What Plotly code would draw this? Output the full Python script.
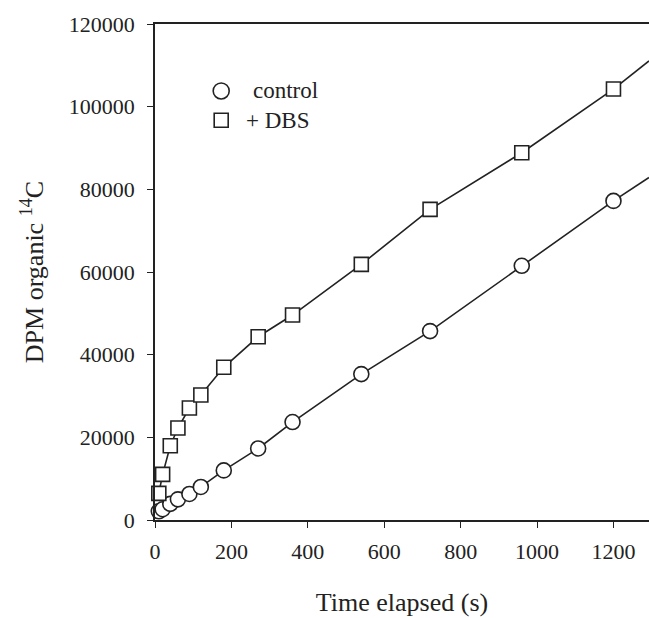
import numpy as np
import plotly.graph_objects as go

# Data
time_s = [10, 20, 40, 60, 90, 120, 180, 270, 360, 540, 720, 960, 1200]
control_dpm = [2100, 2600, 3900, 5000, 6300, 8000, 12000, 17300, 23700, 35300, 45700, 61500, 77200]
dbs_dpm = [6450, 11050, 17970, 22250, 27090, 30240, 36940, 44340, 49590, 61850, 75150, 88850, 104260]
x_ticks = [0, 200, 400, 600, 800, 1000, 1200]
y_ticks = [0, 20000, 40000, 60000, 80000, 100000, 120000]
x_max = 1293
y_max = 120000

FONT = "Liberation Serif"
INK = "#222222"

t = np.array(time_s, dtype=float)


def extension(y):
    y = np.array(y, dtype=float)
    mask = t >= 180
    slope, icpt = np.polyfit(t[mask], y[mask], 1)
    return [t[-1], x_max], [y[-1], slope * x_max + icpt]


fig = go.Figure()

for ys, sym in [(control_dpm, "circle"), (dbs_dpm, "square")]:
    ex, ey = extension(ys)
    fig.add_trace(go.Scatter(x=ex, y=ey, mode="lines",
                             line=dict(color=INK, width=1.6),
                             showlegend=False, hoverinfo="skip"))
    fig.add_trace(go.Scatter(
        x=time_s, y=ys, mode="lines+markers",
        line=dict(color=INK, width=1.6),
        marker=dict(symbol=sym, size=15 if sym == "circle" else 14,
                    color="white", line=dict(color=INK, width=1.6)),
        cliponaxis=False, showlegend=False))

# manual legend
fig.add_shape(type="circle", xref="paper", yref="paper", xsizemode="pixel", ysizemode="pixel",
              xanchor=0.134, yanchor=0.865, x0=-8, x1=8, y0=-8, y1=8,
              line=dict(color=INK, width=1.6), fillcolor="white")
fig.add_shape(type="rect", xref="paper", yref="paper", xsizemode="pixel", ysizemode="pixel",
              xanchor=0.134, yanchor=0.806, x0=-7, x1=7, y0=-7, y1=7,
              line=dict(color=INK, width=1.6), fillcolor="white")
fig.add_annotation(x=0.194, y=0.865, xref="paper", yref="paper", text="control",
                   showarrow=False, xanchor="left", yanchor="middle",
                   font=dict(family=FONT, size=23, color=INK))
fig.add_annotation(x=0.18, y=0.806, xref="paper", yref="paper", text="+ DBS",
                   showarrow=False, xanchor="left", yanchor="middle",
                   font=dict(family=FONT, size=23, color=INK))

fig.update_layout(
    width=649, height=618,
    margin=dict(l=155, r=0, t=24, b=98),
    paper_bgcolor="white", plot_bgcolor="white",
    font=dict(family=FONT, color=INK, size=22),
    showlegend=False,
    xaxis=dict(range=[0, x_max], tickvals=x_ticks, ticks="outside", ticklen=6,
               tickwidth=1.3, tickcolor=INK, showline=True, linecolor=INK,
               linewidth=1.6, mirror=True, showgrid=False, zeroline=False,
               tickfont=dict(family=FONT, size=22), ticklabelstandoff=5,
               title=dict(text="Time elapsed (s)", font=dict(family=FONT, size=26), standoff=30)),
    yaxis=dict(range=[0, y_max], tickvals=y_ticks, tickformat="d", ticks="outside", ticklen=6,
               tickwidth=1.3, tickcolor=INK, showline=True, linecolor=INK,
               linewidth=1.6, showgrid=False, zeroline=False,
               tickfont=dict(family=FONT, size=22), ticklabelstandoff=8,
               title=dict(text="DPM organic <sup>14</sup>C", font=dict(family=FONT, size=26), standoff=18)),
)

fig.write_html("out.html", config={"displayModeBar": False},
               post_script="document.body.style.margin='0';")
